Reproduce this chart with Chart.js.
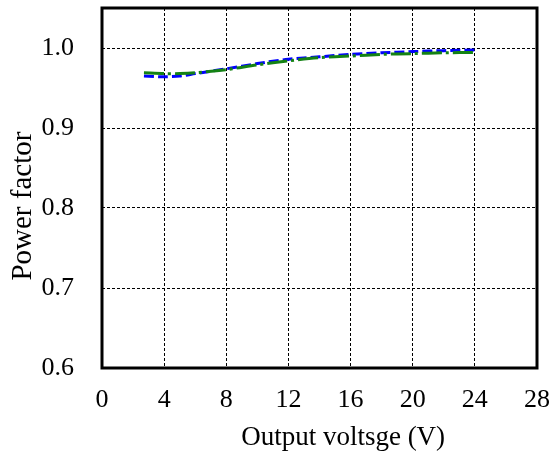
<!DOCTYPE html>
<html>
<head>
<meta charset="utf-8">
<script src="https://cdn.jsdelivr.net/npm/chart.js@4"></script>
<style>
  html, body { margin: 0; padding: 0; background: #fff; }
  canvas { display: block; }
</style>
</head>
<body>
<canvas id="pfChart" width="556" height="454"></canvas>
<script>
// values
const voltage = [2.7, 4, 5, 6, 8, 10, 12, 14, 16, 18, 20, 22, 24];
const pfGreen = [0.969, 0.968, 0.968, 0.969, 0.973, 0.979, 0.984, 0.988, 0.990, 0.992, 0.993, 0.994, 0.9945];
const pfBlue = [0.965, 0.964, 0.965, 0.968, 0.974, 0.9805, 0.986, 0.989, 0.992, 0.994, 0.9955, 0.9967, 0.9975];
const xTicks = [0, 4, 8, 12, 16, 20, 24, 28];
const yTicks = [0.6, 0.7, 0.8, 0.9, 1.0];

const serif = "'Liberation Serif', 'Times New Roman', serif";

function toPoints(xs, ys) {
    return xs.map((x, i) => ({ x: x, y: ys[i] }));
}

// black frame round the plot area
const frame = {
    id: "frame",
    afterDraw(chart) {
        const a = chart.chartArea;
        const ctx = chart.ctx;
        ctx.save();
        ctx.strokeStyle = "#000";
        ctx.lineWidth = 3;
        ctx.strokeRect(a.left, a.top, a.right - a.left, a.bottom - a.top);
        ctx.restore();
    }
};

document.addEventListener("DOMContentLoaded", () => {
    const ctx = document.getElementById("pfChart").getContext("2d");
    new Chart(ctx, {
        type: "line",
        data: {
            datasets: [
                {
                    label: "Power factor (green)",
                    data: toPoints(voltage, pfGreen),
                    borderColor: "rgb(20,130,20)",
                    borderWidth: 3,
                    borderDash: [20, 4, 3, 4],
                    pointRadius: 0,
                    tension: 0.3,
                    fill: false
                },
                {
                    label: "Power factor (blue)",
                    data: toPoints(voltage, pfBlue),
                    borderColor: "rgb(0,0,255)",
                    borderWidth: 3,
                    borderDash: [10, 4],
                    pointRadius: 0,
                    tension: 0.3,
                    fill: false
                }
            ]
        },
        options: {
            responsive: false,
            animation: false,
            layout: { padding: { top: 8, right: 19, left: 6, bottom: 0 } },
            plugins: {
                legend: { display: false },
                tooltip: { enabled: false }
            },
            scales: {
                x: {
                    type: "linear",
                    min: 0,
                    max: 28,
                    afterBuildTicks: (scale) => {
                        scale.ticks = xTicks.map(v => ({ value: v }));
                    },
                    afterFit: (scale) => {
                        scale.height = 86;
                        scale.paddingRight = 0;
                        scale.paddingLeft = 0;
                    },
                    ticks: {
                        color: "#000",
                        font: { family: serif, size: 26 },
                        padding: 17,
                        maxRotation: 0
                    },
                    grid: {
                        color: "#000",
                        lineWidth: 1,
                        drawTicks: false
                    },
                    border: { display: false, dash: [3, 2] },
                    title: {
                        display: true,
                        text: "       Output voltsge (V)",
                        color: "#000",
                        font: { family: serif, size: 27 },
                        padding: { top: 0, bottom: 0 }
                    }
                },
                y: {
                    min: 0.6,
                    max: 1.05,
                    afterBuildTicks: (scale) => {
                        scale.ticks = yTicks.map(v => ({ value: v }));
                    },
                    afterFit: (scale) => {
                        scale.width = 96;
                        scale.paddingTop = 0;
                        scale.paddingBottom = 0;
                    },
                    ticks: {
                        color: "#000",
                        font: { family: serif, size: 26 },
                        padding: 28,
                        callback: (v) => Number(v).toFixed(1)
                    },
                    grid: {
                        color: "#000",
                        lineWidth: 1,
                        drawTicks: false
                    },
                    border: { display: false, dash: [3, 2] },
                    title: {
                        display: true,
                        text: "Power factor     ",
                        color: "#000",
                        font: { family: serif, size: 29 },
                        padding: { top: 0, bottom: 0 }
                    }
                }
            }
        },
        plugins: [frame]
    });
});
</script>
</body>
</html>
